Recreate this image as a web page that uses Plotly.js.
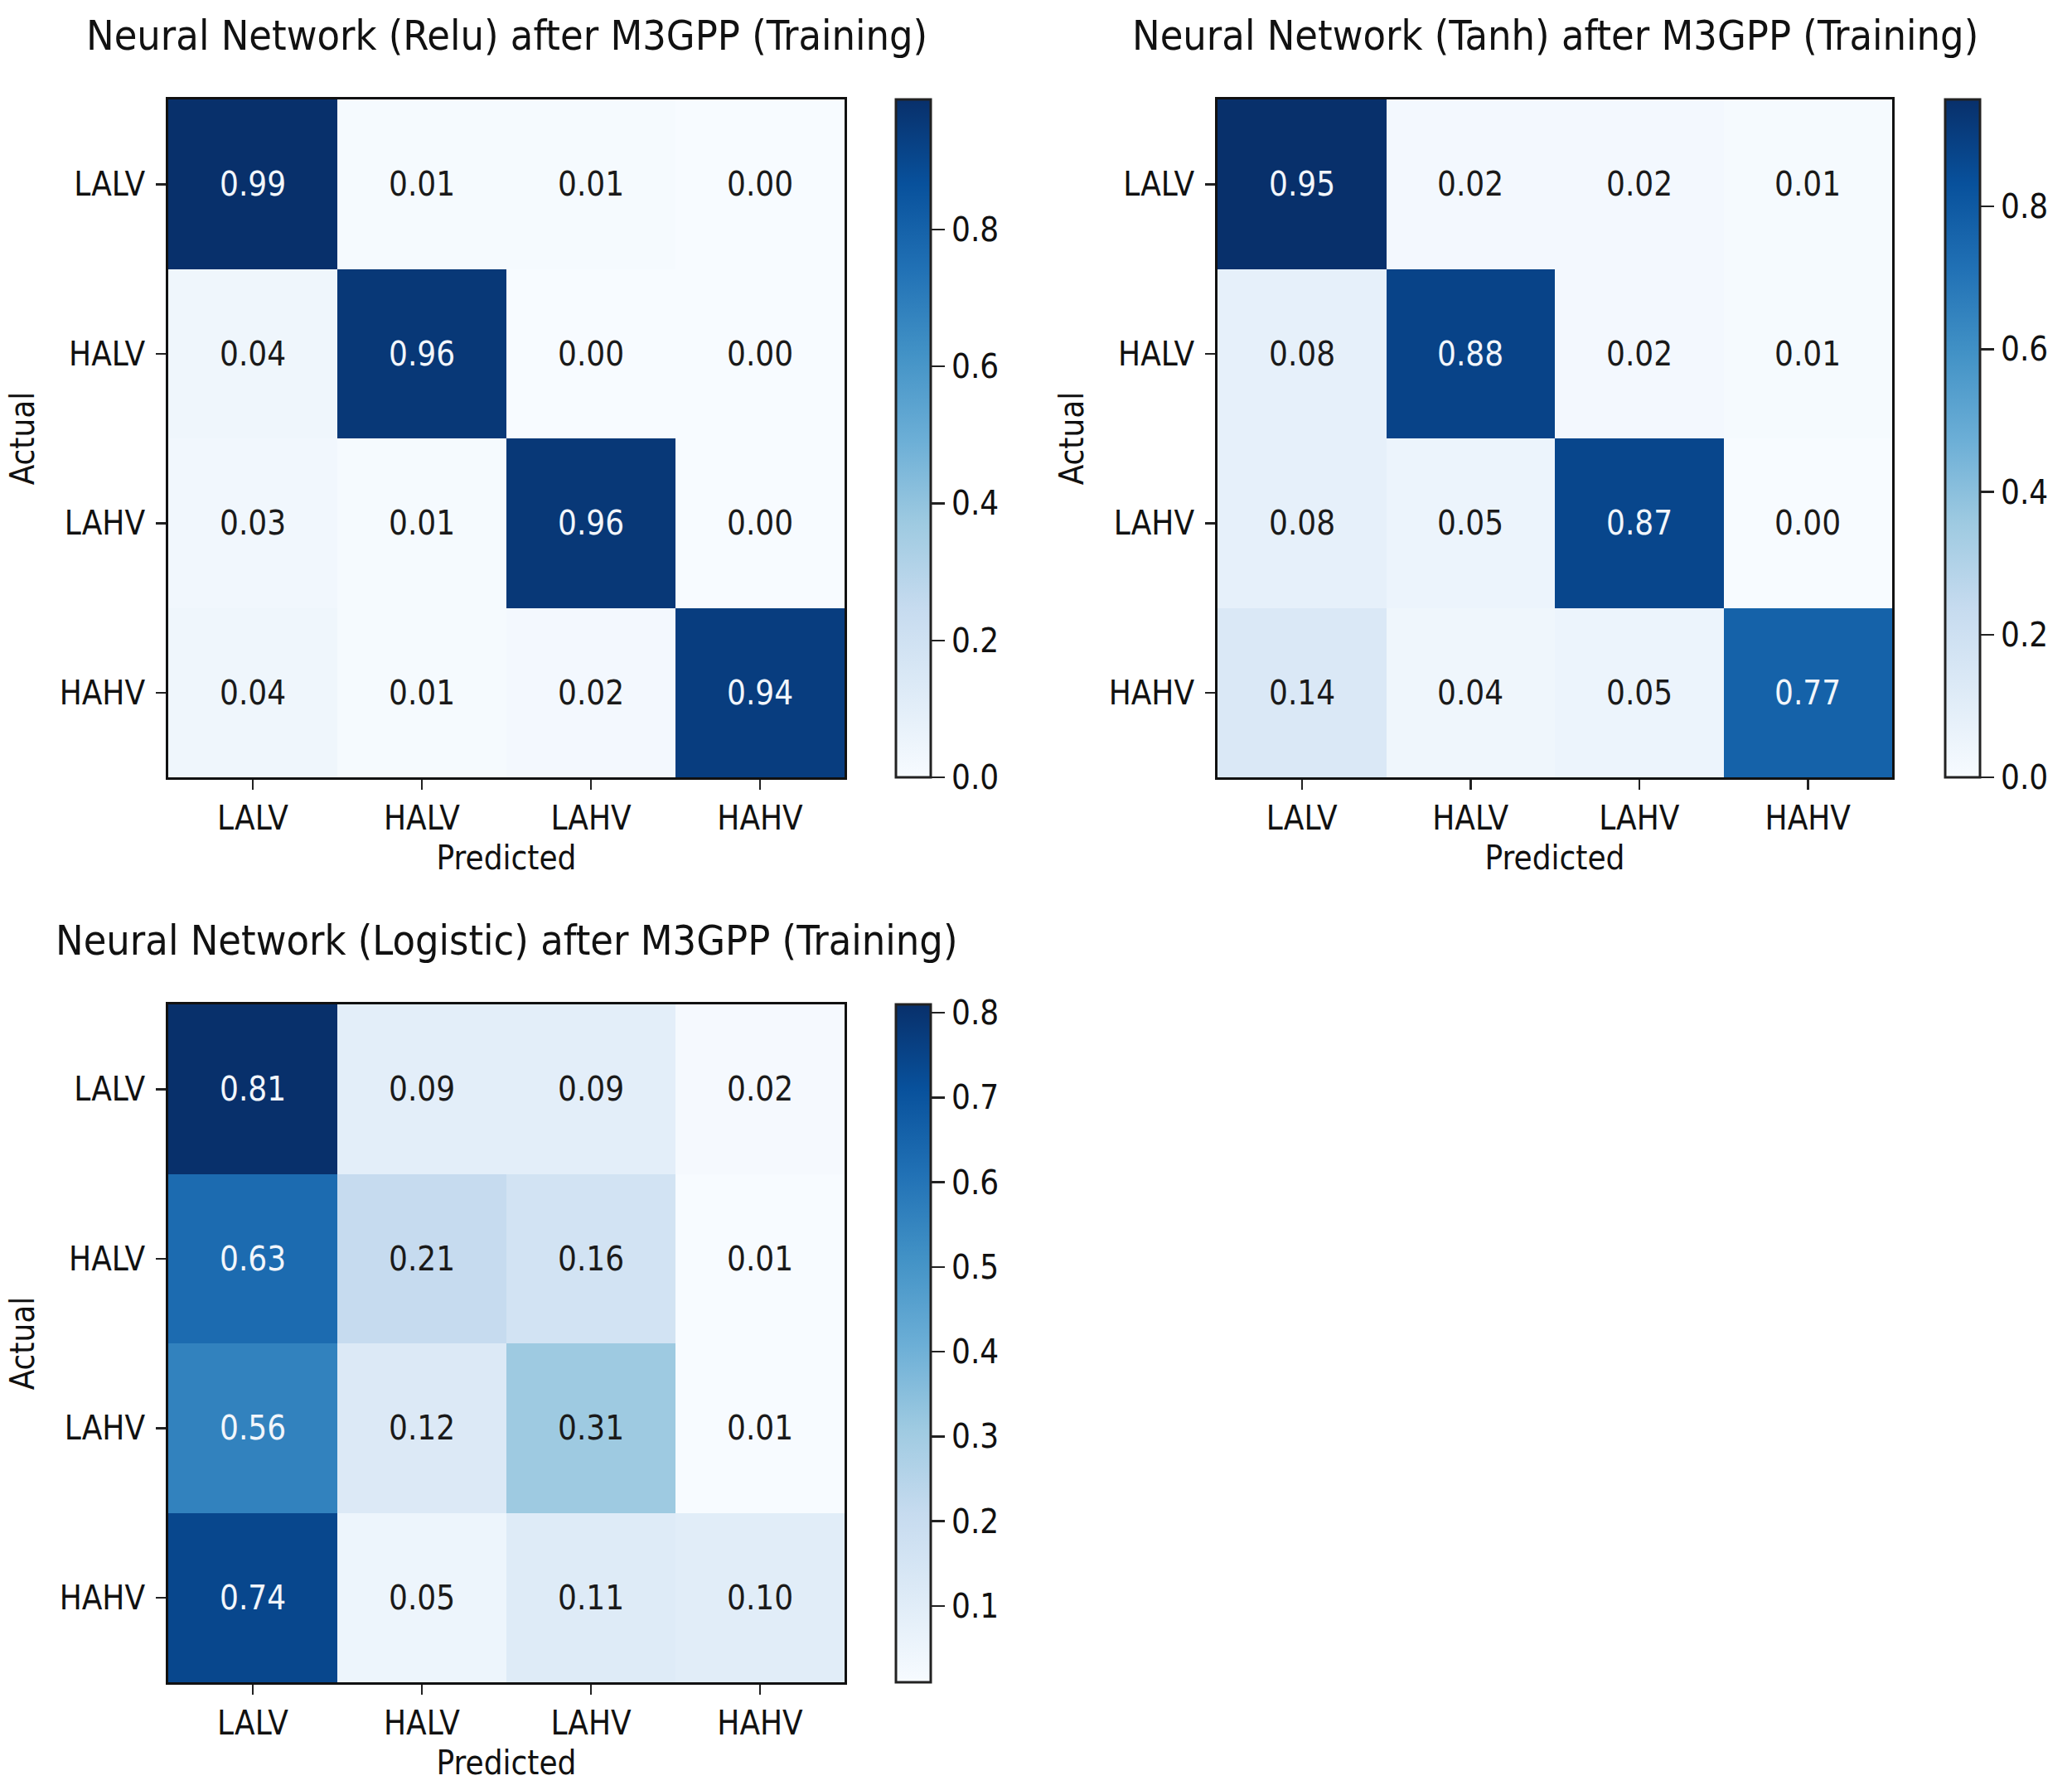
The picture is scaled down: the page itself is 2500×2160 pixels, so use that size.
<!DOCTYPE html>
<html>
<head>
<meta charset="utf-8">
<script src="https://cdn.plot.ly/plotly-3.0.1.min.js"></script>
<style>
  html, body { margin: 0; padding: 0; background: #ffffff; }
  #chart { width: 2500px; height: 2160px; }
</style>
</head>
<body>
<div id="chart"></div>
<script>
// ---- Data ----
const classLabels = ['LALV', 'HALV', 'LAHV', 'HAHV'];
const reluValues = [
  [0.99, 0.01, 0.01, 0.00],
  [0.04, 0.96, 0.00, 0.00],
  [0.03, 0.01, 0.96, 0.00],
  [0.04, 0.01, 0.02, 0.94]
];
const tanhValues = [
  [0.95, 0.02, 0.02, 0.01],
  [0.08, 0.88, 0.02, 0.01],
  [0.08, 0.05, 0.87, 0.00],
  [0.14, 0.04, 0.05, 0.77]
];
const logisticValues = [
  [0.81, 0.09, 0.09, 0.02],
  [0.63, 0.21, 0.16, 0.01],
  [0.56, 0.12, 0.31, 0.01],
  [0.74, 0.05, 0.11, 0.10]
];
const panelTitles = [
  'Neural Network (Relu) after M3GPP (Training)',
  'Neural Network (Tanh) after M3GPP (Training)',
  'Neural Network (Logistic) after M3GPP (Training)'
];
const xAxisTitle = 'Predicted';
const yAxisTitle = 'Actual';

// ---- Style ----
const FONT = 'DejaVu Sans Condensed, DejaVu Sans, sans-serif';
const blues = [
  [0.0, '#f7fbff'], [0.125, '#deebf7'], [0.25, '#c6dbef'], [0.375, '#9ecae1'],
  [0.5, '#6baed6'], [0.625, '#4292c6'], [0.75, '#2171b5'], [0.875, '#08519c'],
  [1.0, '#08306b']
];
const W = 2500, H = 2160;
const px = v => v / W;
const py = v => 1 - v / H;
const FS = 40;

const panels = [
  { vals: reluValues, xa: 'x', ya: 'y', xd: [203, 1019], yd: [120, 938], cbx: 1081, dtick: 0.2, tick0: 0 },
  { vals: tanhValues, xa: 'x2', ya: 'y2', xd: [1469, 2283], yd: [120, 938], cbx: 2347, dtick: 0.2, tick0: 0 },
  { vals: logisticValues, xa: 'x3', ya: 'y3', xd: [203, 1019], yd: [1212, 2030], cbx: 1081, dtick: 0.1, tick0: 0 }
];

const traces = [];
const annotations = [];
const layout = {
  width: W, height: H,
  margin: { l: 0, r: 0, t: 0, b: 0, pad: 0 },
  paper_bgcolor: '#ffffff',
  plot_bgcolor: '#ffffff',
  font: { family: FONT, size: FS, color: '#111111' },
  showlegend: false
};

panels.forEach((p, i) => {
  const flat = p.vals.flat();
  const zmin = Math.min(...flat), zmax = Math.max(...flat);
  const thresh = (zmin + zmax) / 2;
  traces.push({
    type: 'heatmap',
    x: classLabels, y: classLabels, z: p.vals,
    xaxis: p.xa, yaxis: p.ya,
    zmin: zmin, zmax: zmax,
    colorscale: blues,
    xgap: 0, ygap: 0,
    hoverinfo: 'skip',
    colorbar: {
      x: px(p.cbx), xanchor: 'left', xref: 'paper',
      y: py((p.yd[0] + p.yd[1]) / 2), yanchor: 'middle', yref: 'paper',
      len: p.yd[1] - p.yd[0], lenmode: 'pixels',
      thickness: 42, thicknessmode: 'pixels',
      xpad: 0, ypad: 0,
      outlinewidth: 3, outlinecolor: '#222222',
      ticks: 'outside', ticklen: 16, tickwidth: 2.5, tickcolor: '#222222',
      tick0: p.tick0, dtick: p.dtick, tickformat: '.1f',
      tickfont: { family: FONT, size: FS, color: '#111111' }
    }
  });
  const sfx = i === 0 ? '' : String(i + 1);
  layout['xaxis' + sfx] = {
    domain: [px(p.xd[0]), px(p.xd[1])], anchor: p.ya,
    type: 'category', categoryorder: 'array', categoryarray: classLabels,
    ticks: 'outside', ticklen: 12, tickwidth: 2.5, tickcolor: '#222222',
    showline: true, mirror: true, linewidth: 3, linecolor: '#111111',
    showgrid: false, zeroline: false, fixedrange: true,
    tickfont: { family: FONT, size: FS, color: '#111111' },
    title: { text: xAxisTitle, font: { family: FONT, size: FS, color: '#111111' }, standoff: 12 }
  };
  layout['yaxis' + sfx] = {
    domain: [py(p.yd[1]), py(p.yd[0])], anchor: p.xa,
    type: 'category', categoryorder: 'array', categoryarray: classLabels,
    autorange: 'reversed',
    ticks: 'outside', ticklen: 12, tickwidth: 2.5, tickcolor: '#222222',
    ticklabelstandoff: 5,
    showline: true, mirror: true, linewidth: 3, linecolor: '#111111',
    showgrid: false, zeroline: false, fixedrange: true,
    tickfont: { family: FONT, size: FS, color: '#111111' },
    title: { text: yAxisTitle, font: { family: FONT, size: FS, color: '#111111' }, standoff: 18 }
  };
  // cell value labels
  p.vals.forEach((row, r) => {
    row.forEach((v, c) => {
      annotations.push({
        xref: p.xa, yref: p.ya, x: classLabels[c], y: classLabels[r],
        text: v.toFixed(2), showarrow: false,
        font: { family: FONT, size: FS, color: v >= thresh ? '#f2f6fb' : '#1a1a1a' }
      });
    });
  });
  // panel title
  annotations.push({
    xref: 'paper', yref: 'paper',
    x: px((p.xd[0] + p.xd[1]) / 2), y: py(p.yd[0] - 77),
    xanchor: 'center', yanchor: 'middle',
    text: panelTitles[i], showarrow: false,
    font: { family: FONT, size: 50, color: '#111111' }
  });
});
layout.annotations = annotations;

Plotly.newPlot('chart', traces, layout, { staticPlot: true, displayModeBar: false });
</script>
</body>
</html>
